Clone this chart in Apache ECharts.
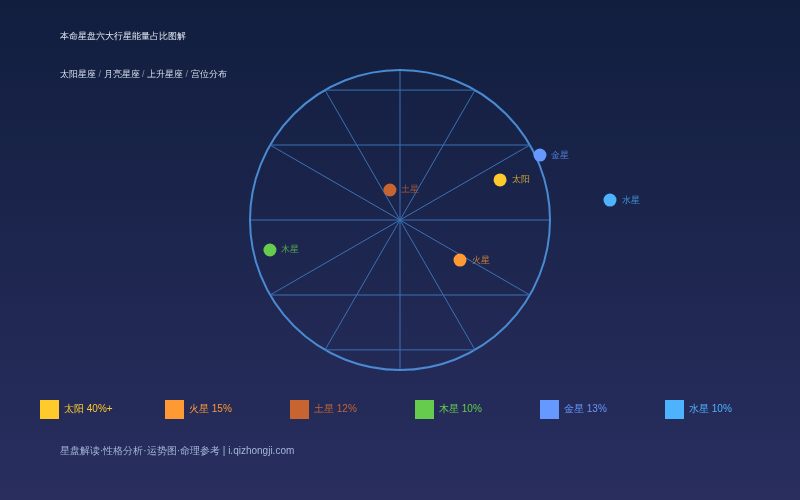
<!DOCTYPE html>
<html>
<head>
<meta charset="utf-8">
<script src="https://cdn.jsdelivr.net/npm/echarts@6/dist/echarts.min.js"></script>
<style>
html, body { margin: 0; padding: 0; }
#chart { width: 800px; height: 500px; }
</style>
</head>
<body>
<div id="chart"></div>
<script>
var names = ['太阳', '火星', '土星', '木星', '金星', '水星'];
var shares = ['40%+', '15%', '12%', '10%', '13%', '10%'];
var colors = ['#FFCA2C', '#FF9933', '#C8642F', '#66CC4D', '#6699FF', '#4DB3FF'];
// positions on the chart plane, circle radius = 1
var pointX = [0.667, 0.4, -0.067, -0.867, 0.933, 1.4];
var pointY = [0.267, -0.267, 0.2, -0.2, 0.433, 0.133];
// horizontal chords joining the spoke ends
var chordY = [0.866, 0.5, -0.5, -0.866];

var dom = document.getElementById('chart');
var myChart = echarts.init(dom);

var series = [];
chordY.forEach(function (y) {
    var half = Math.sqrt(1 - y * y);
    series.push({
        type: 'line',
        silent: true,
        symbol: 'none',
        data: [[-half, y], [half, y]],
        lineStyle: { color: '#3A72B6', width: 1 },
        z: 1
    });
});
names.forEach(function (n, i) {
    series.push({
        name: n,
        type: 'scatter',
        clip: false,
        symbol: 'circle',
        symbolSize: 13,
        itemStyle: { color: colors[i], opacity: 1 },
        label: {
            show: true,
            position: 'right',
            distance: 5,
            formatter: n,
            color: colors[i],
            opacity: 0.75,
            fontSize: 9
        },
        data: [[pointX[i], pointY[i]]],
        z: 5
    });
});

var legends = names.map(function (n, i) {
    return {
        left: 40 + 125 * i,
        top: 400,
        padding: 0,
        icon: 'rect',
        itemWidth: 19,
        itemHeight: 19,
        itemGap: 0,
        selectedMode: false,
        data: [{ name: n, itemStyle: { opacity: 1 }, textStyle: { color: colors[i] } }],
        formatter: function (name) { return name + ' ' + shares[i]; },
        textStyle: { fontSize: 10 }
    };
});

var option = {
    backgroundColor: {
        type: 'linear', x: 0, y: 0, x2: 0, y2: 1,
        colorStops: [{ offset: 0, color: '#111E3E' }, { offset: 1, color: '#292E5F' }]
    },
    title: [
        { text: '本命星盘六大行星能量占比图解', left: 60, top: 32, padding: 0,
          textStyle: { color: '#E3E8F3', fontSize: 9, fontWeight: 'normal' } },
        { text: '{a|太阳星座} {s|/} {a|月亮星座} {s|/} {a|上升星座} {s|/} {a|宫位分布}', left: 60, top: 70, padding: 0,
          textStyle: { fontSize: 9, fontWeight: 'normal', rich: {
              a: { color: '#D8DFEE', fontSize: 9, fontWeight: 'normal' },
              s: { color: '#7F8DAE', fontSize: 9, fontWeight: 'normal' } } } },
        { text: '星盘解读·性格分析·运势图·命理参考 | i.qizhongji.com', left: 60, top: 446, padding: 0,
          textStyle: { color: '#A6B6D8', fontSize: 10, fontWeight: 'normal' } }
    ],
    legend: legends,
    grid: { left: 100, right: 100, top: 70, bottom: 130 },
    xAxis: { type: 'value', min: -2, max: 2, show: false },
    yAxis: { type: 'value', min: -1, max: 1, show: false },
    polar: { center: [400, 220], radius: 150 },
    angleAxis: {
        type: 'value', min: 0, max: 360, interval: 30, startAngle: 90,
        axisLine: { show: true, lineStyle: { color: '#4A8AD2', width: 2 } },
        axisTick: { show: false },
        axisLabel: { show: false },
        splitLine: { show: true, lineStyle: { color: '#3A72B6', width: 1 } }
    },
    radiusAxis: { show: false, min: 0, max: 1, splitLine: { show: false } },
    series: series
};
myChart.setOption(option, true);
window.addEventListener('resize', function () { myChart.resize(); });
</script>
</body>
</html>
